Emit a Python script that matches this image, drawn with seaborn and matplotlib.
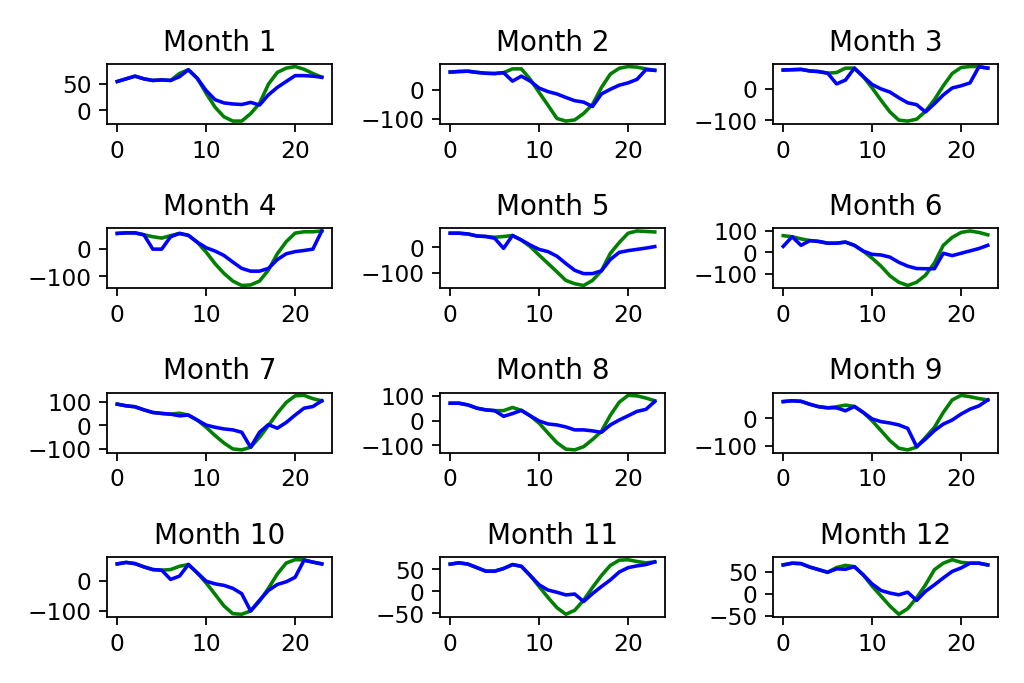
"""
Суточный профиль по месяцам: зелёная кривая и синяя кривая, сетка 4x3.
"""

import matplotlib
matplotlib.use("Agg")
import matplotlib.pyplot as plt
import seaborn as sns

hours = list(range(24))

m1_green = [54, 59, 64, 59, 56, 57, 56, 69, 76, 60, 32, 6, -12, -20, -20, -6, 13, 49, 71, 79, 82, 77, 69, 62]
m1_blue = [54, 59, 64, 59, 56, 57, 56, 63, 76, 60, 37, 20, 14, 12, 11, 15, 10, 29, 43, 54, 65, 65, 64, 62]

m2_green = [61, 63, 64, 60, 57, 56, 59, 72, 72, 36, -9, -53, -98, -107, -103, -81, -50, 8, 54, 74, 80, 78, 72, 67]
m2_blue = [61, 63, 64, 60, 57, 56, 59, 30, 47, 30, 6, -6, -14, -26, -37, -42, -57, -14, 2, 16, 24, 36, 69, 67]

m3_green = [60, 61, 62, 57, 55, 50, 52, 66, 66, 39, 3, -36, -73, -99, -102, -96, -71, -34, 10, 49, 68, 71, 71, 66]
m3_blue = [60, 61, 62, 57, 55, 50, 16, 28, 66, 39, 14, 0, -10, -28, -44, -50, -73, -47, -19, 3, 10, 19, 70, 66]

m4_green = [56, 58, 58, 51, 44, 39, 48, 56, 49, 24, -12, -54, -89, -117, -133, -131, -117, -77, -18, 26, 57, 62, 62, 65]
m4_blue = [56, 58, 58, 51, -1, -1, 44, 56, 49, 24, 4, -8, -24, -48, -71, -81, -81, -71, -39, -18, -10, -6, -1, 65]

m5_green = [56, 56, 53, 45, 43, 40, 43, 47, 29, 3, -31, -64, -97, -131, -144, -151, -131, -93, -24, 19, 56, 65, 63, 61]
m5_blue = [56, 56, 53, 45, 43, 36, -4, 47, 29, 9, -8, -17, -35, -64, -91, -104, -104, -93, -48, -20, -13, -8, -3, 3]

m6_green = [78, 73, 63, 55, 51, 43, 43, 48, 33, 6, -27, -64, -109, -139, -154, -139, -106, -49, 33, 70, 93, 100, 93, 82]
m6_blue = [28, 73, 33, 55, 51, 43, 43, 48, 33, 6, -9, -12, -22, -46, -64, -75, -76, -76, -4, -15, -4, 7, 18, 33]

m7_green = [89, 82, 78, 65, 54, 50, 47, 51, 43, 22, -8, -43, -74, -99, -103, -92, -50, -1, 51, 96, 124, 126, 112, 103]
m7_blue = [89, 82, 78, 65, 54, 50, 47, 40, 43, 22, 1, -8, -15, -19, -29, -92, -29, 3, -12, 12, 43, 72, 79, 103]

m8_green = [71, 71, 64, 51, 44, 41, 41, 54, 42, 20, -10, -50, -89, -115, -118, -105, -76, -43, 22, 75, 103, 101, 92, 81]
m8_blue = [71, 71, 64, 51, 44, 41, 18, 29, 42, 20, -1, -13, -17, -25, -37, -37, -41, -47, -17, 3, 20, 38, 46, 78]

m9_green = [62, 65, 63, 52, 43, 39, 43, 49, 44, 22, -9, -45, -82, -110, -116, -106, -70, -33, 22, 68, 85, 80, 73, 68]
m9_blue = [62, 65, 63, 52, 43, 39, 39, 28, 44, 22, -2, -12, -17, -24, -37, -104, -76, -45, -21, -6, 16, 34, 46, 68]

m10_green = [58, 63, 59, 48, 39, 37, 39, 50, 56, 28, -6, -44, -83, -109, -111, -100, -67, -24, 24, 61, 72, 72, 64, 58]
m10_blue = [58, 63, 59, 48, 39, 37, 6, 17, 56, 28, 0, -9, -14, -24, -42, -100, -64, -31, -11, -2, 13, 70, 64, 58]

m11_green = [62, 65, 62, 54, 46, 46, 52, 61, 57, 36, 11, -14, -37, -52, -43, -20, 9, 36, 59, 71, 72, 68, 65, 67]
m11_blue = [62, 65, 62, 54, 46, 46, 52, 61, 57, 36, 15, 3, -2, -8, -6, -23, -5, 11, 26, 44, 54, 58, 61, 67]

m12_green = [67, 71, 70, 62, 56, 50, 61, 66, 63, 44, 18, -5, -28, -47, -34, -9, 21, 56, 71, 79, 73, 71, 71, 67]
m12_blue = [67, 71, 70, 62, 56, 50, 58, 57, 63, 44, 23, 8, 2, -2, 4, -15, 6, 21, 37, 52, 60, 71, 71, 67]

months = [
    (m1_green, m1_blue), (m2_green, m2_blue), (m3_green, m3_blue),
    (m4_green, m4_blue), (m5_green, m5_blue), (m6_green, m6_blue),
    (m7_green, m7_blue), (m8_green, m8_blue), (m9_green, m9_blue),
    (m10_green, m10_blue), (m11_green, m11_blue), (m12_green, m12_blue),
]

plt.rcParams.update({"font.size": 10.5, "xtick.labelsize": 10.5, "ytick.labelsize": 10.5,
                     "axes.titlesize": 12.5})

fig, axes = plt.subplots(4, 3, figsize=(6.4, 4.27), dpi=160)
fig.subplots_adjust(left=0.1045, right=0.9746, top=0.9063, bottom=0.0966,
                    wspace=0.48, hspace=1.74)

for i, (ax, (green, blue)) in enumerate(zip(axes.flat, months)):
    sns.lineplot(x=hours, y=green, color="g", linewidth=1.6, ax=ax)
    sns.lineplot(x=hours, y=blue, color="b", linewidth=1.6, ax=ax)
    ax.set_title(f"Month {i + 1}")

plt.savefig("out.png", dpi=160)
